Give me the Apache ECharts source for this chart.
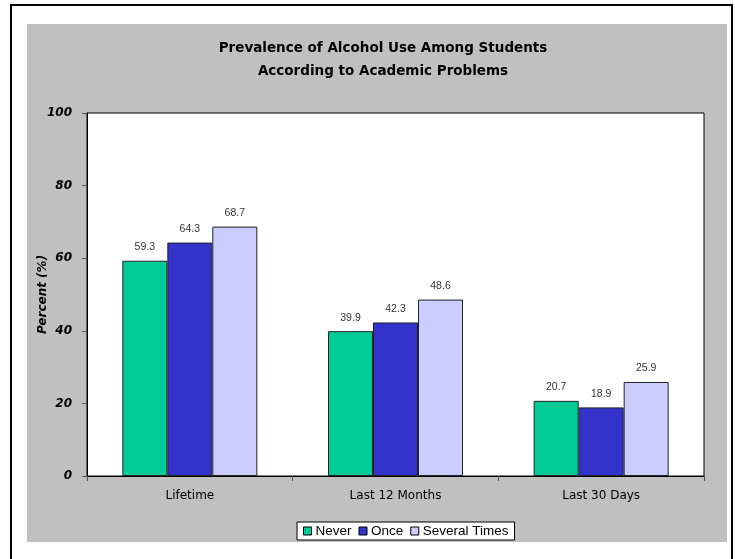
<!DOCTYPE html>
<html>
<head>
<meta charset="utf-8">
<script src="https://cdn.jsdelivr.net/npm/echarts@6/dist/echarts.min.js"></script>
<style>
  html, body { margin: 0; padding: 0; background: #ffffff; }
  #chart { width: 735px; height: 559px; }
</style>
</head>
<body>
<div id="chart"></div>
<script>
// Categories and series values
const categories = ['Lifetime', 'Last 12 Months', 'Last 30 Days'];
const neverValues = [59.3, 39.9, 20.7];
const onceValues = [64.3, 42.3, 18.9];
const severalValues = [68.7, 48.6, 25.9];
const seriesNames = ['Never', 'Once', 'Several Times'];
const seriesColors = ['#00CC99', '#3333CC', '#CCCCFF'];

const chart = echarts.init(document.getElementById('chart'), null, { renderer: 'canvas' });

const FONT = 'Arial, "Liberation Sans", sans-serif';
const WIDE = '"DejaVu Sans", Verdana, sans-serif';

function makeSeries(name, values, color) {
  return {
    name: name,
    type: 'bar',
    data: values,
    barWidth: 45,
    barGap: '0%',
    itemStyle: { color: color, borderColor: '#222222', borderWidth: 1 },
    label: {
      show: true,
      position: 'top',
      distance: 8,
      color: '#333333',
      fontFamily: FONT,
      fontSize: 10.5,
      formatter: (p) => p.value.toFixed(1)
    }
  };
}

const option = {
  backgroundColor: '#ffffff',
  animation: false,
  graphic: [
    {
      type: 'rect', z: -10, silent: true,
      shape: { x: 11, y: 5, width: 721, height: 560 },
      style: { fill: '#ffffff', stroke: '#000000', lineWidth: 2 }
    },
    {
      type: 'rect', z: -9, silent: true,
      shape: { x: 27, y: 24, width: 700, height: 518 },
      style: { fill: '#C0C0C0' }
    }
  ],
  title: {
    text: 'Prevalence of Alcohol Use Among Students\nAccording to Academic Problems',
    left: 378,
    textAlign: 'center',
    top: 32,
    textStyle: {
      fontFamily: WIDE,
      fontSize: 13.5,
      fontWeight: 'bold',
      color: '#000000',
      lineHeight: 23
    }
  },
  legend: {
    data: seriesNames,
    left: 297,
    top: 522,
    width: 240,
    backgroundColor: '#ffffff',
    borderColor: '#000000',
    borderWidth: 1,
    padding: [2, 6, 2, 6],
    itemGap: 7,
    itemWidth: 8,
    itemHeight: 8,
    icon: 'rect',
    itemStyle: { borderColor: '#000000', borderWidth: 1 },
    textStyle: { fontFamily: FONT, fontSize: 13.5, color: '#000000', padding: [0, 0, 0, -1] }
  },
  grid: {
    left: 87,
    top: 113,
    right: 31,
    bottom: 83,
    show: true,
    backgroundColor: '#ffffff',
    borderColor: '#000000',
    borderWidth: 1
  },
  xAxis: {
    type: 'category',
    data: categories,
    axisLine: { lineStyle: { color: '#000000', width: 1 } },
    axisTick: { show: true, length: 5, lineStyle: { color: '#555555' } },
    axisLabel: { fontFamily: WIDE, fontSize: 12, color: '#000000', margin: 14 }
  },
  yAxis: {
    type: 'value',
    min: 0,
    max: 100,
    interval: 20,
    name: 'Percent (%)',
    nameLocation: 'middle',
    nameGap: 38,
    nameMoveOverlap: false,
    nameTextStyle: { fontFamily: WIDE, fontSize: 12, fontWeight: 'bold', fontStyle: 'italic', color: '#000000' },
    axisLine: { show: true, lineStyle: { color: '#000000', width: 1 } },
    axisTick: { show: true, length: 5, lineStyle: { color: '#555555' } },
    splitLine: { show: false },
    axisLabel: { fontFamily: WIDE, fontSize: 12, fontWeight: 'bold', fontStyle: 'italic', color: '#000000', margin: 15 }
  },
  series: [
    makeSeries(seriesNames[0], neverValues, seriesColors[0]),
    makeSeries(seriesNames[1], onceValues, seriesColors[1]),
    makeSeries(seriesNames[2], severalValues, seriesColors[2])
  ]
};

chart.setOption(option);
</script>
</body>
</html>
